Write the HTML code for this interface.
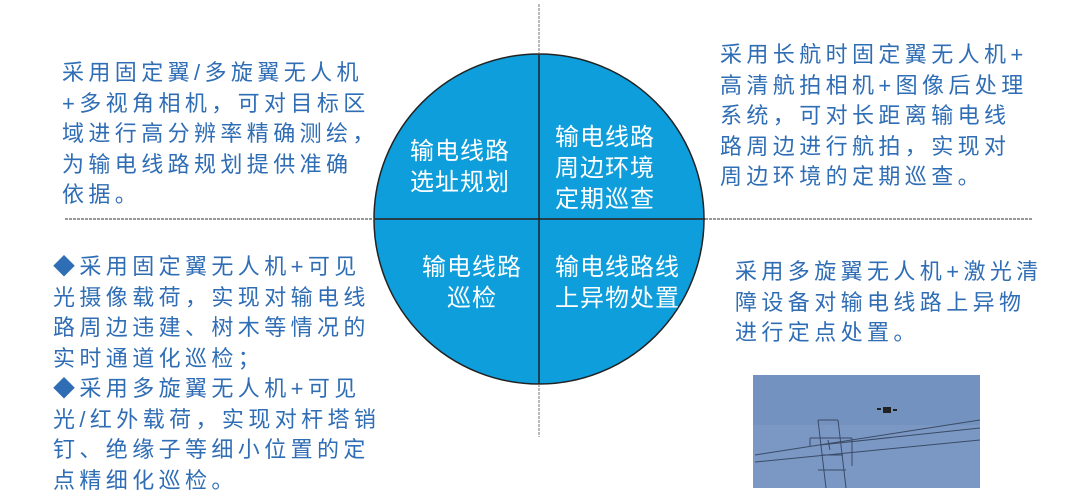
<!DOCTYPE html>
<html><head><meta charset="utf-8"><style>
body{margin:0;width:1080px;height:498px;background:#fff;position:relative;overflow:hidden;font-family:"Liberation Sans","Noto Sans CJK SC",sans-serif;}
.t{position:absolute;color:#2f6db5;font-size:22px;line-height:30.5px;letter-spacing:4.4px;white-space:nowrap;}
.w{position:absolute;color:#fff;font-size:24px;line-height:31px;letter-spacing:1px;white-space:nowrap;}
</style></head><body>
<svg width="1080" height="498" style="position:absolute;left:0;top:0">
<circle cx="539" cy="219" r="165" fill="#0d9edb" stroke="#222" stroke-width="1.5"/>
<line x1="65" y1="219" x2="1032" y2="219" stroke="#777" stroke-width="1.5" stroke-dasharray="3,1"/>
<line x1="374" y1="219" x2="705" y2="219" stroke="#222" stroke-width="1.5"/>
<line x1="539" y1="4" x2="539" y2="437" stroke="#777" stroke-width="1" stroke-dasharray="3,1"/>
<line x1="539" y1="54" x2="539" y2="384" stroke="#222" stroke-width="1.5"/>
<rect x="753" y="375" width="227" height="113" fill="#7b98c4"/>
<rect x="753" y="375" width="227" height="50" fill="#6f8dbd" opacity="0.6"/>
<g stroke="#3a4a66" stroke-width="1" fill="none">
<path d="M755 455 L980 420"/><path d="M755 462 L980 440"/><path d="M820 445 L980 428"/>
<path d="M826 488 L818 420 L826 488 M846 488 L838 420 M818 420 L838 420 M810 438 L852 438 M822 455 L843 455 M818 470 L846 470"/>
<path d="M810 438 L810 446 M852 438 L852 466 M828 440 L830 450"/>
</g>
<g fill="#222"><rect x="883" y="407" width="8" height="6"/><rect x="877" y="408" width="4" height="2"/><rect x="893" y="409" width="4" height="2"/></g>
</svg>
<div class="t" style="left:62px;top:58px">采用固定翼/多旋翼无人机<br>+多视角相机，可对目标区<br>域进行高分辨率精确测绘，<br>为输电线路规划提供准确<br>依据。</div>
<div class="t" style="left:720px;top:40px">采用长航时固定翼无人机+<br>高清航拍相机+图像后处理<br>系统，可对长距离输电线<br>路周边进行航拍，实现对<br>周边环境的定期巡查。</div>
<div class="t" style="left:735px;top:257px">采用多旋翼无人机+激光清<br>障设备对输电线路上异物<br>进行定点处置。</div>
<div class="t" style="left:53px;top:252px">◆采用固定翼无人机+可见<br>光摄像载荷，实现对输电线<br>路周边违建、树木等情况的<br>实时通道化巡检；<br>◆采用多旋翼无人机+可见<br>光/红外载荷，实现对杆塔销<br>钉、绝缘子等细小位置的定<br>点精细化巡检。</div>
<div class="w" style="left:410px;top:136px">输电线路<br>选址规划</div>
<div class="w" style="left:555px;top:122px">输电线路<br>周边环境<br>定期巡查</div>
<div class="w" style="left:422px;top:252px;text-align:center">输电线路<br>巡检</div>
<div class="w" style="left:555px;top:252px">输电线路线<br>上异物处置</div>
</body></html>
